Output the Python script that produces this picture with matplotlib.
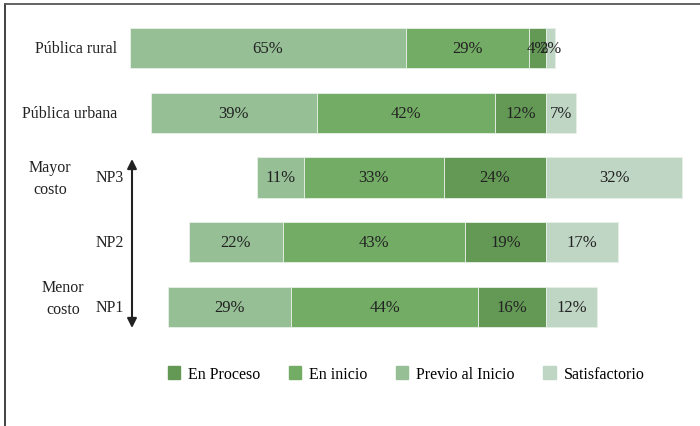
import matplotlib
matplotlib.use("Agg")
import matplotlib.pyplot as plt
from matplotlib.lines import Line2D

plt.rcParams['font.family'] = ['Liberation Serif', 'DejaVu Serif']

# Categories (top to bottom)
categories = ["Pública rural", "Pública urbana", "NP3", "NP2", "NP1"]

# Percentages per achievement level
previo_inicio = [65, 39, 11, 22, 29]
en_inicio = [29, 42, 33, 43, 44]
en_proceso = [4, 12, 24, 19, 16]
satisfactorio = [2, 7, 32, 17, 12]

legend_labels = ["En Proceso", "En inicio", "Previo al Inicio", "Satisfactorio"]

c_proceso = "#639955"
c_inicio = "#73ac64"
c_previo = "#96bf96"
c_satisf = "#bfd6c5"

W, H = 700, 427
fig = plt.figure(figsize=(W / 100, H / 100), dpi=100)
ax = fig.add_axes([0, 0, 1, 1])

# pixel mapping: zero line at x=546, 4.25 px per percentage point
x0_px, ppu = 546, 4.25
ax.set_xlim(-x0_px / ppu, (W - x0_px) / ppu)
row0_px, row_step = 49, 64.75
ax.set_ylim((H - row0_px) / row_step, -row0_px / row_step)
ax.axis("off")

ys = list(range(len(categories)))
bar_h = 0.62
edge = dict(edgecolor="#e8f0e8", linewidth=0.6)

for i, y in enumerate(ys):
    pr, ei, ep, sa = previo_inicio[i], en_inicio[i], en_proceso[i], satisfactorio[i]
    # diverging stack: non-satisfactory levels to the left of zero
    left_p = -(pr + ei + ep)
    left_i = -(ei + ep)
    left_e = -ep
    ax.barh(y, pr, left=left_p, height=bar_h, color=c_previo, **edge)
    ax.barh(y, ei, left=left_i, height=bar_h, color=c_inicio, **edge)
    ax.barh(y, ep, left=left_e, height=bar_h, color=c_proceso, **edge)
    ax.barh(y, sa, left=0, height=bar_h, color=c_satisf, **edge)
    fs = 12
    ax.text(left_p + pr / 2, y, f"{pr}%", ha="center", va="center", fontsize=fs, color="#222222")
    ax.text(left_i + ei / 2, y, f"{ei}%", ha="center", va="center", fontsize=fs, color="#222222")
    ax.text(left_e + ep / 2, y, f"{ep}%", ha="center", va="center", fontsize=fs, color="#222222")
    ax.text(sa / 2, y, f"{sa}%", ha="center", va="center", fontsize=fs, color="#222222")

# category labels
def px_to_x(px):
    return (px - x0_px) / ppu

for i, lab in enumerate(categories):
    xr = 117 if i < 2 else 124
    ax.text(px_to_x(xr), ys[i], lab, ha="right", va="center", fontsize=11.5, color="#222222")

# cost annotation with double arrow
ax.annotate("", xy=(px_to_x(132), (160 - row0_px) / row_step),
            xytext=(px_to_x(132), (329 - row0_px) / row_step),
            arrowprops=dict(arrowstyle="<|-|>", color="#222222", lw=1.5,
                            mutation_scale=14, shrinkA=0, shrinkB=0))
ax.text(px_to_x(50), (179 - row0_px) / row_step, "Mayor\ncosto", ha="center", va="center",
        fontsize=11.5, color="#222222", linespacing=1.5)
ax.text(px_to_x(63), (299 - row0_px) / row_step, "Menor\ncosto", ha="center", va="center",
        fontsize=11.5, color="#222222", linespacing=1.5)

# legend
handles = [plt.Rectangle((0, 0), 1, 1, color=c) for c in (c_proceso, c_inicio, c_previo, c_satisf)]
fig.legend(handles, legend_labels, loc="center", bbox_to_anchor=(406 / W, 1 - 375 / H),
           ncol=4, frameon=False, fontsize=11.5, handlelength=0.8, handleheight=0.8,
           handletextpad=0.5, columnspacing=1.75)

# frame lines on top and left
fig.add_artist(Line2D([4.5 / W, 4.5 / W], [0, 1 - 4.5 / H], color="#333333", lw=1.3))
fig.add_artist(Line2D([4.5 / W, 1], [1 - 4.5 / H, 1 - 4.5 / H], color="#555555", lw=1.3))

fig.savefig("out.png", dpi=100)
